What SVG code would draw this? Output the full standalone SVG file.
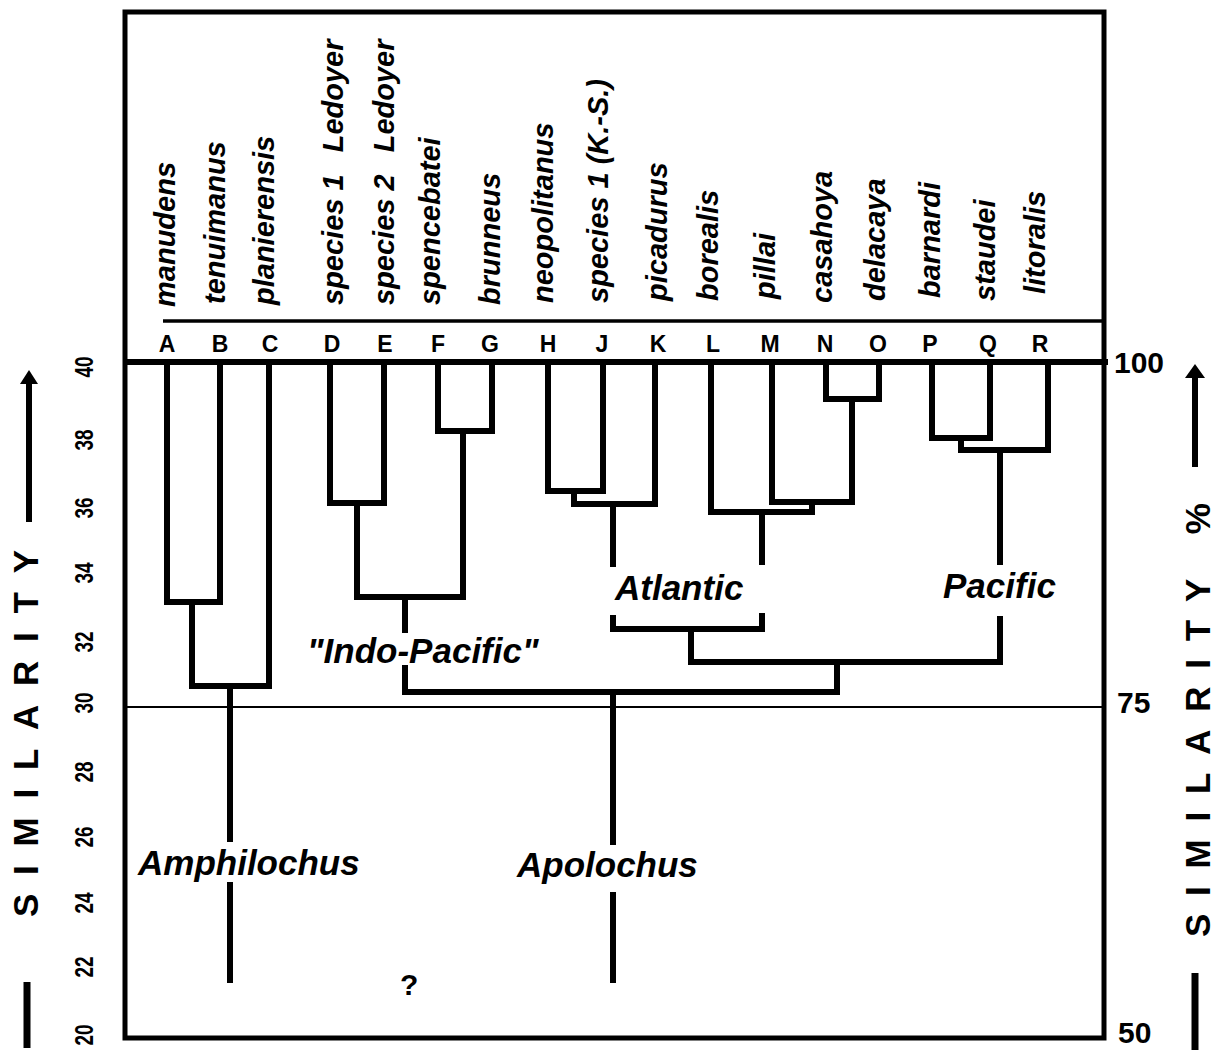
<svg xmlns="http://www.w3.org/2000/svg" width="1216" height="1050" viewBox="0 0 1216 1050">
<style>
.sp{font-family:"Liberation Sans",Arial,sans-serif;font-weight:bold;font-style:italic;font-size:29px;fill:#000}
.lt{font-family:"Liberation Sans",Arial,sans-serif;font-weight:bold;font-size:23px;fill:#000;text-anchor:middle}
.grp{font-family:"Liberation Sans",Arial,sans-serif;font-weight:bold;font-style:italic;font-size:35px;fill:#000}
.num{font-family:"Liberation Sans",Arial,sans-serif;font-weight:bold;font-size:26px;fill:#000;text-anchor:middle}
.rnum{font-family:"Liberation Sans",Arial,sans-serif;font-weight:bold;font-size:30px;fill:#000}
.ax{font-family:"Liberation Sans",Arial,sans-serif;font-weight:bold;font-size:35px;fill:#000}
.tr{fill:none;stroke:#000;stroke-width:6;stroke-linejoin:miter;stroke-linecap:butt}
</style>
<rect width="1216" height="1050" fill="#fff"/>
<g id="frame" fill="none" stroke="#000">
<rect x="125" y="12" width="979" height="1026" stroke-width="5"/>
<line x1="163" y1="321" x2="1104" y2="321" stroke-width="3.5"/>
<line x1="125" y1="362" x2="1108" y2="362" stroke-width="6"/>
<line x1="125" y1="707" x2="1104" y2="707" stroke-width="2"/>
</g>
<g id="taxa">
<g id="tA"><text class="sp" transform="translate(175,307) rotate(-90)">manudens</text><text class="lt" x="167" y="352">A</text></g>
<g id="tB"><text class="sp" transform="translate(225,304) rotate(-90)">tenuimanus</text><text class="lt" x="220" y="352">B</text></g>
<g id="tC"><text class="sp" transform="translate(274,305) rotate(-90)">planierensis</text><text class="lt" x="270" y="352">C</text></g>
<g id="tD"><text class="sp" transform="translate(343,305) rotate(-90)">species 1<tspan dx="14"> Ledoyer</tspan></text><text class="lt" x="332" y="352">D</text></g>
<g id="tE"><text class="sp" transform="translate(394,305) rotate(-90)">species 2<tspan dx="14"> Ledoyer</tspan></text><text class="lt" x="385" y="352">E</text></g>
<g id="tF"><text class="sp" transform="translate(440,305) rotate(-90)">spencebatei</text><text class="lt" x="438" y="352">F</text></g>
<g id="tG"><text class="sp" transform="translate(500,305) rotate(-90)">brunneus</text><text class="lt" x="490" y="352">G</text></g>
<g id="tH"><text class="sp" transform="translate(553,303) rotate(-90)">neopolitanus</text><text class="lt" x="548" y="352">H</text></g>
<g id="tJ"><text class="sp" transform="translate(608,303) rotate(-90)">species 1 (K.-S.)</text><text class="lt" x="602" y="352">J</text></g>
<g id="tK"><text class="sp" transform="translate(667,301) rotate(-90)">picadurus</text><text class="lt" x="658" y="352">K</text></g>
<g id="tL"><text class="sp" transform="translate(718,301) rotate(-90)">borealis</text><text class="lt" x="713" y="352">L</text></g>
<g id="tM"><text class="sp" transform="translate(775,299) rotate(-90)">pillai</text><text class="lt" x="770" y="352">M</text></g>
<g id="tN"><text class="sp" transform="translate(832,303) rotate(-90)">casahoya</text><text class="lt" x="825" y="352">N</text></g>
<g id="tO"><text class="sp" transform="translate(885,301) rotate(-90)">delacaya</text><text class="lt" x="878" y="352">O</text></g>
<g id="tP"><text class="sp" transform="translate(940,298) rotate(-90)">barnardi</text><text class="lt" x="930" y="352">P</text></g>
<g id="tQ"><text class="sp" transform="translate(995,301) rotate(-90)">staudei</text><text class="lt" x="988" y="352">Q</text></g>
<g id="tR"><text class="sp" transform="translate(1045,294) rotate(-90)">litoralis</text><text class="lt" x="1040" y="352">R</text></g>
</g>
<g id="connectors" class="tr">
<path d="M167,362 V602 H220 V362"/>
<path d="M192,602 V686 H269 V362"/>
<path d="M230,686 V842 M230,882 V983"/>
<path d="M330,362 V503 H384 V362"/>
<path d="M438,362 V431 H492 V362"/>
<path d="M357,503 V597 H463 V431"/>
<path d="M405,597 V633 M405,665 V692 H837 V662"/>
<path d="M548,362 V491 H603 V362"/>
<path d="M574,491 V504 H655 V362"/>
<path d="M613,504 V567"/>
<path d="M826,362 V399 H879 V362"/>
<path d="M772,362 V502 H852 V399"/>
<path d="M711,362 V512 H812 V502"/>
<path d="M762,512 V565"/>
<path d="M932,362 V438 H990 V362"/>
<path d="M961,438 V450 H1048 V362"/>
<path d="M1000,450 V565"/>
<path d="M613,615 V629 H762 V613"/>
<path d="M691,629 V662 H1000 V616"/>
<path d="M613,692 V845 M613,892 V983"/>
</g>
<g id="groups">
<text class="grp" x="138" y="875">Amphilochus</text>
<text class="grp" x="517" y="877">Apolochus</text>
<text class="grp" x="307" y="663">"Indo-Pacific"</text>
<text class="grp" x="615" y="600">Atlantic</text>
<text class="grp" x="943" y="598">Pacific</text>
<text class="rnum" x="400" y="995">?</text>
</g>
<g id="left-axis">
<text class="num" textLength="21" lengthAdjust="spacingAndGlyphs" transform="translate(93,367) rotate(-90)">40</text>
<text class="num" textLength="21" lengthAdjust="spacingAndGlyphs" transform="translate(93,440) rotate(-90)">38</text>
<text class="num" textLength="21" lengthAdjust="spacingAndGlyphs" transform="translate(93,508) rotate(-90)">36</text>
<text class="num" textLength="21" lengthAdjust="spacingAndGlyphs" transform="translate(93,573) rotate(-90)">34</text>
<text class="num" textLength="21" lengthAdjust="spacingAndGlyphs" transform="translate(93,642) rotate(-90)">32</text>
<text class="num" textLength="21" lengthAdjust="spacingAndGlyphs" transform="translate(93,703) rotate(-90)">30</text>
<text class="num" textLength="21" lengthAdjust="spacingAndGlyphs" transform="translate(93,772) rotate(-90)">28</text>
<text class="num" textLength="21" lengthAdjust="spacingAndGlyphs" transform="translate(93,837) rotate(-90)">26</text>
<text class="num" textLength="21" lengthAdjust="spacingAndGlyphs" transform="translate(93,903) rotate(-90)">24</text>
<text class="num" textLength="21" lengthAdjust="spacingAndGlyphs" transform="translate(93,967) rotate(-90)">22</text>
<text class="num" textLength="21" lengthAdjust="spacingAndGlyphs" transform="translate(93,1035) rotate(-90)">20</text>
<text class="ax" textLength="367" lengthAdjust="spacing" transform="translate(38,917) rotate(-90)">SIMILARITY</text>
<line x1="29" y1="522" x2="29" y2="380" stroke="#000" stroke-width="6"/>
<polygon points="29,370 20,384 38,384" fill="#000"/>
<line x1="27" y1="982" x2="27" y2="1048" stroke="#000" stroke-width="7"/>
</g>
<g id="right-axis">
<text class="rnum" x="1114" y="373">100</text>
<text class="rnum" x="1117" y="713">75</text>
<text class="rnum" x="1118" y="1043">50</text>
<text class="ax" textLength="434" lengthAdjust="spacing" transform="translate(1210,937) rotate(-90)">SIMILARITY %</text>
<line x1="1195" y1="467" x2="1195" y2="375" stroke="#000" stroke-width="6"/>
<polygon points="1195,364 1185,378 1205,378" fill="#000"/>
<line x1="1195" y1="973" x2="1195" y2="1050" stroke="#000" stroke-width="7"/>
</g>
</svg>
